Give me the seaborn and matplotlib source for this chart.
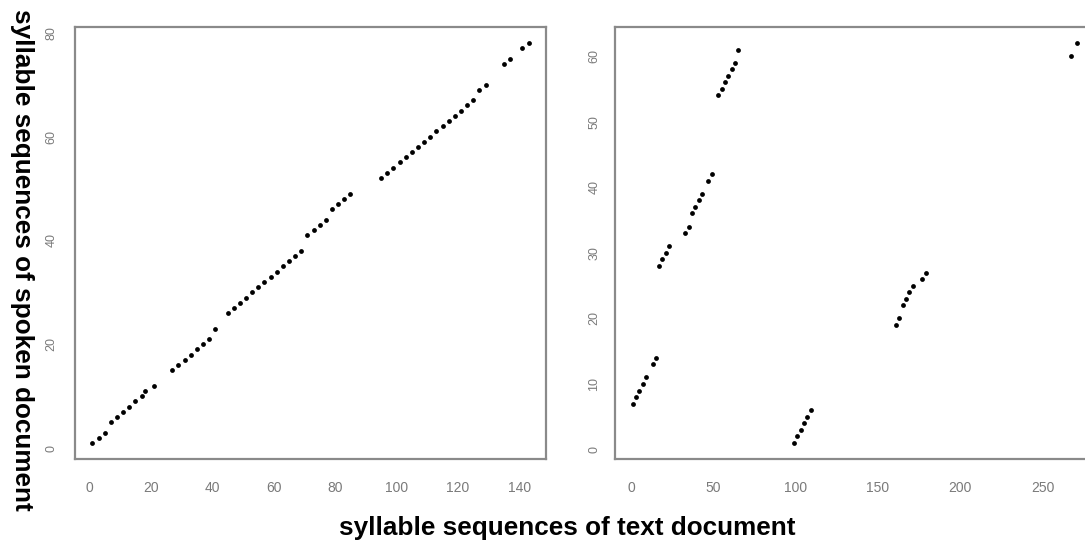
import matplotlib
matplotlib.use("Agg")
import matplotlib.pyplot as plt
import seaborn as sns
import pandas as pd

# ---- data ----
left_x = [1, 3, 5, 7, 9, 11, 13, 15, 17, 18, 21,
          27, 29, 31, 33, 35, 37, 39, 41,
          45, 47, 49, 51, 53, 55, 57, 59, 61, 63, 65, 67, 69,
          71, 73, 75, 77, 79, 81, 83, 85,
          95, 97, 99, 101, 103, 105, 107, 109, 111, 113, 115, 117, 119, 121, 123, 125,
          127, 129, 135, 137, 141, 143]
left_y = [1, 2, 3, 5, 6, 7, 8, 9, 10, 11, 12,
          15, 16, 17, 18, 19, 20, 21, 23,
          26, 27, 28, 29, 30, 31, 32, 33, 34, 35, 36, 37, 38,
          41, 42, 43, 44, 46, 47, 48, 49,
          52, 53, 54, 55, 56, 57, 58, 59, 60, 61, 62, 63, 64, 65, 66, 67,
          69, 70, 74, 75, 77, 78]

right_x = [1, 3, 5, 7, 9, 13, 15,
           17, 19, 21, 23, 33, 35, 37, 39, 41, 43, 47, 49,
           53, 55, 57, 59, 61, 63, 65,
           99, 101, 103, 105, 107, 109,
           161, 163, 165, 167, 169, 171, 177, 179,
           267, 271]
right_y = [7, 8, 9, 10, 11, 13, 14,
           28, 29, 30, 31, 33, 34, 36, 37, 38, 39, 41, 42,
           54, 55, 56, 57, 58, 59, 61,
           1, 2, 3, 4, 5, 6,
           19, 20, 22, 23, 24, 25, 26, 27,
           60, 62]

left_xticks = [0, 20, 40, 60, 80, 100, 120, 140]
left_yticks = [0, 20, 40, 60, 80]
right_xticks = [0, 50, 100, 150, 200, 250]
right_yticks = [0, 10, 20, 30, 40, 50, 60]

x_label = "syllable sequences of text document"
y_label = "syllable sequences of spoken document"

# ---- style ----
sns.set_style("white")
plt.rcParams['font.family'] = ['Liberation Sans', 'DejaVu Sans']

W, H = 1085, 546
fig = plt.figure(figsize=(W / 100, H / 100), dpi=100)

top_px, bot_px = 27, 459
ax1 = fig.add_axes([75 / W, (H - bot_px) / H, 471 / W, (bot_px - top_px) / H])
ax2 = fig.add_axes([615 / W, (H - bot_px) / H, 480 / W, (bot_px - top_px) / H])

grey = "#8a8a8a"
label_grey = "#7a7a7a"

def style(ax, xticks, yticks, xlim, ylim, ypad):
    ax.set_xlim(*xlim)
    ax.set_ylim(*ylim)
    ax.set_xticks(xticks)
    ax.set_yticks(yticks)
    ax.set_xticklabels([str(t) for t in xticks])
    ax.set_yticklabels([str(t) for t in yticks], rotation=90, va="center")
    for s in ax.spines.values():
        s.set_visible(True)
        s.set_color(grey)
        s.set_linewidth(1.6)
    ax.tick_params(axis="both", direction="out", length=5.5, width=1.0,
                   color=grey, labelcolor=label_grey)
    ax.tick_params(axis="x", pad=10, labelsize=10)
    ax.tick_params(axis="y", pad=ypad, labelsize=9)
    ax.set_xlabel("")
    ax.set_ylabel("")
    ax.grid(False)

df1 = pd.DataFrame({"x": left_x, "y": left_y})
df2 = pd.DataFrame({"x": right_x, "y": right_y})

sns.scatterplot(data=df1, x="x", y="y", ax=ax1, color="black", s=12,
                linewidth=0, legend=False)
sns.scatterplot(data=df2, x="x", y="y", ax=ax2, color="black", s=12,
                linewidth=0, legend=False)

style(ax1, left_xticks, left_yticks, (-4.68, 148.68), (-2.08, 81.08), 7)
style(ax2, right_xticks, right_yticks, (-9.8, 281.8), (-1.44, 64.44), 5)

fig.text(567 / W, 1 - 528 / H, x_label, ha="center", va="center",
         fontsize=18.8, fontweight="bold", color="black")
fig.text(22 / W, 1 - 260 / H, y_label, ha="center", va="center",
         rotation=270, fontsize=18.8, fontweight="bold", color="black")

fig.savefig("out.png", dpi=100)
